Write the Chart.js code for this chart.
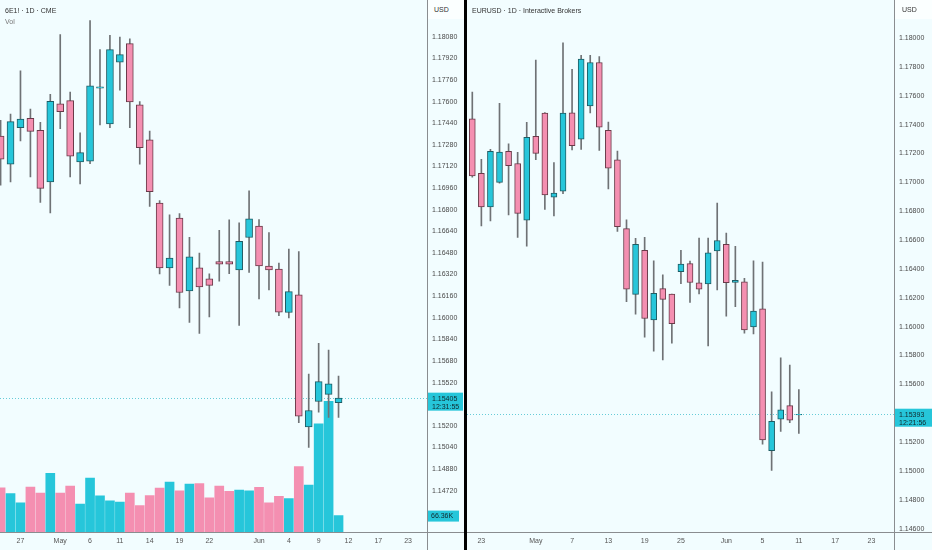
<!DOCTYPE html>
<html><head><meta charset="utf-8">
<script src="https://cdn.jsdelivr.net/npm/chart.js@4.4.1/dist/chart.umd.min.js"></script>
<style>
html,body{margin:0;padding:0;background:#000;width:932px;height:550px;overflow:hidden;font-family:'Liberation Sans',Arial,sans-serif}
.pane{position:absolute;top:0;height:550px;background:#f2fdff}
#lp{left:0;width:464px}
#rp{left:467px;width:465px}
canvas{position:absolute;left:0;top:0}
.t{position:absolute;left:5px;font-size:7px;white-space:nowrap;z-index:2}
.usd{position:absolute;top:0;height:19px;background:#fbffff;font-size:7px;color:#333;line-height:20px;padding-left:6px;z-index:2;box-sizing:border-box}
</style></head>
<body>
<div class="pane" id="lp">
  <canvas id="cl" width="464" height="550"></canvas>
  <div class="t" style="top:7px;color:#333">6E1! · 1D · CME</div>
  <div class="t" style="top:18px;color:#777">Vol</div>
  <div class="usd" style="left:428px;width:36px">USD</div>
</div>
<div class="pane" id="rp">
  <canvas id="cr" width="465" height="550"></canvas>
  <div class="t" style="top:7px;color:#333">EURUSD · 1D · Interactive Brokers</div>
  <div class="usd" style="left:428px;width:37px;padding-left:7px">USD</div>
</div>
<script>
// ---------- Left: 6E1! CME futures ----------
const leftOpen  = [1.17345,1.17137,1.17406,1.17476,1.17387,1.17006,1.17583,1.17607,1.17154,1.17159,1.17700,1.17435,1.17891,1.18029,1.17576,1.17316,1.16849,1.16369,1.16737,1.16199,1.16369,1.16289,1.16415,1.16415,1.16354,1.16594,1.16679,1.16383,1.16361,1.16039,1.16169,1.15193,1.15380,1.15433,1.15372];
const leftHigh  = [1.17462,1.17508,1.17828,1.17544,1.17447,1.17653,1.18095,1.17671,1.17369,1.18199,1.17985,1.18090,1.18078,1.18065,1.17600,1.17382,1.16868,1.16761,1.16771,1.16596,1.16478,1.16325,1.16647,1.16725,1.16702,1.16940,1.16727,1.16631,1.16405,1.16509,1.16489,1.15583,1.15811,1.15760,1.15569];
const leftLow   = [1.16982,1.17006,1.17309,1.17042,1.16853,1.16776,1.17399,1.17042,1.16991,1.17140,1.17428,1.17406,1.17685,1.17406,1.17137,1.16824,1.16325,1.16240,1.16073,1.15966,1.15884,1.16007,1.16271,1.16327,1.15944,1.16335,1.16140,1.16206,1.16015,1.15998,1.15224,1.15040,1.15302,1.15263,1.15263];
const leftClose = [1.17173,1.17452,1.17471,1.17380,1.16958,1.17602,1.17525,1.17195,1.17222,1.17716,1.17709,1.17985,1.17947,1.17598,1.17258,1.16933,1.16369,1.16441,1.16187,1.16451,1.16228,1.16240,1.16397,1.16397,1.16565,1.16732,1.16383,1.16354,1.16041,1.16194,1.15271,1.15314,1.15527,1.15511,1.15405];
const leftVolumeK = [178.7,154.8,117.9,181.4,157.6,237.0,157.6,185.4,112.7,218.4,145.7,125.8,120.7,157.6,107.2,146.9,177.5,201.3,166.7,193.3,196.1,137.8,185.4,164.4,169.5,166.7,180.2,117.9,144.5,135.0,264.8,189.4,436.7,528.0,66.36];
const leftDateTickIndex = [2,6,9,12,15,18,21,26,29,32,35,38,41];
const leftDateTickText  = ['27','May','6','11','14','19','22','Jun','4','9','12','17','23'];
const leftPriceTicks = [1.14720,1.14880,1.15040,1.15200,1.15360,1.15520,1.15680,1.15840,1.16000,1.16160,1.16320,1.16480,1.16640,1.16800,1.16960,1.17120,1.17280,1.17440,1.17600,1.17760,1.17920,1.18080];
const leftCountdown = '12:31:55';

// ---------- Right: EURUSD Interactive Brokers ----------
const rightOpen  = [1.17439,1.17062,1.16829,1.16999,1.17214,1.17130,1.16737,1.17319,1.17480,1.16897,1.16938,1.17482,1.17299,1.17530,1.17830,1.17360,1.17156,1.16679,1.16223,1.16529,1.16046,1.16263,1.16225,1.16381,1.16436,1.16304,1.16295,1.16524,1.16570,1.16306,1.16311,1.15998,1.16123,1.15140,1.15358,1.15453,1.15388];
const rightHigh  = [1.17625,1.17160,1.17228,1.17548,1.17267,1.17207,1.17416,1.17847,1.17484,1.17137,1.17966,1.17782,1.17879,1.17879,1.17871,1.17418,1.17217,1.16740,1.16611,1.16618,1.16456,1.16359,1.16225,1.16529,1.16454,1.16613,1.16613,1.16856,1.16649,1.16556,1.16334,1.16456,1.16447,1.15548,1.15784,1.15734,1.15564];
const rightLow   = [1.17035,1.16697,1.16733,1.16994,1.16774,1.16618,1.16558,1.17156,1.16812,1.16767,1.16921,1.17224,1.17228,1.17480,1.17221,1.16955,1.16660,1.16172,1.16086,1.15927,1.15830,1.15770,1.15886,1.16298,1.16168,1.16227,1.15866,1.16254,1.16073,1.16138,1.15954,1.15950,1.15185,1.15004,1.15273,1.15335,1.15260];
const rightClose = [1.17044,1.16829,1.17214,1.17210,1.17115,1.16785,1.17312,1.17201,1.16912,1.16926,1.17480,1.17253,1.17854,1.17830,1.17382,1.17098,1.16692,1.16259,1.16570,1.16056,1.16231,1.16189,1.16020,1.16434,1.16306,1.16259,1.16511,1.16597,1.16304,1.16320,1.15977,1.16107,1.15215,1.15344,1.15423,1.15351,1.15393];
const rightDateTickIndex = [1,7,11,15,19,23,28,32,36,40,44];
const rightDateTickText  = ['23','May','7','13','19','25','Jun','5','11','17','23'];
const rightPriceTicks = [1.14600,1.14800,1.15000,1.15200,1.15400,1.15600,1.15800,1.16000,1.16200,1.16400,1.16600,1.16800,1.17000,1.17200,1.17400,1.17600,1.17800,1.18000];
const rightCountdown = '12:21:56';

const UP='#26c6da', DOWN='#f48fb1', UPB='#1e5c64', DNB='#6a3a49', WICK='#6f7275';
const FONT = "'Liberation Sans', Arial, sans-serif";
Chart.defaults.font.family = FONT;
Chart.defaults.font.size = 7;
Chart.defaults.color = '#4a4a4a';

function candleSets(O,H,L,C,bodyW){
  const idx = O.map((_,i)=>i);
  const up = idx.map(i=>C[i]>=O[i]);
  return [
    {label:'body', data: idx.map(i=>({x:i,y:[O[i],C[i]]})), backgroundColor: up.map(u=>u?UP:DOWN),
     borderColor: up.map(u=>u?UPB:DNB), borderWidth:1, borderSkipped:false, barThickness:bodyW, grouped:false, yAxisID:'y', clip:0},
    {label:'wick', data: idx.map(i=>({x:i,y:[L[i],H[i]]})), backgroundColor: WICK, borderWidth:0,
     barThickness:1, grouped:false, yAxisID:'y', clip:0}
  ];
}

function overlay(cfg){
  return {
    id:'overlay',
    beforeDatasetsDraw(chart){
      const {ctx, chartArea:a, scales} = chart;
      const py = Math.round(scales.y.getPixelForValue(cfg.last)) + 0.5;
      ctx.save();
      ctx.setLineDash([1,2]); ctx.strokeStyle = '#66ccd8'; ctx.lineWidth = 1;
      ctx.beginPath(); ctx.moveTo(a.left, py); ctx.lineTo(a.right, py); ctx.stroke();
      ctx.restore();
    },
    afterDraw(chart){
      const {ctx, chartArea:a, scales} = chart;
      const W = chart.width, H = chart.height;
      ctx.save();
      ctx.strokeStyle = '#8a8d90'; ctx.lineWidth = 1;
      ctx.beginPath();
      ctx.moveTo(0, Math.round(a.bottom)+0.5); ctx.lineTo(W, Math.round(a.bottom)+0.5);
      ctx.moveTo(Math.round(a.right)+0.5, 0); ctx.lineTo(Math.round(a.right)+0.5, H);
      ctx.stroke();
      const py = scales.y.getPixelForValue(cfg.last);
      ctx.fillStyle = UP;
      ctx.fillRect(a.right+1, py-5.5, cfg.boxW, 18);
      ctx.fillStyle = '#10282c';
      ctx.font = '7px ' + FONT;
      ctx.textBaseline = 'middle'; ctx.textAlign = 'left';
      ctx.fillText(cfg.last.toFixed(5), a.right+5, py+0.5);
      ctx.fillText(cfg.timer, a.right+5, py+9);
      if (cfg.vol !== undefined){
        const vy = scales.v.getPixelForValue(cfg.vol);
        ctx.fillStyle = UP;
        ctx.fillRect(a.right+1, vy-5, 31, 11);
        ctx.fillStyle = '#10282c';
        ctx.fillText(cfg.vol.toFixed(2)+'K', a.right+4, vy+0.5);
      }
      ctx.restore();
    }
  };
}

function makeChart(el, sets, xr, yr, xTickIdx, xTickText, priceTicks, axisW, extraScales, ov){
  return new Chart(document.getElementById(el), {
    type:'bar',
    data:{datasets: sets},
    options:{
      responsive:false, animation:false, events:[],
      layout:{padding:0},
      plugins:{legend:{display:false}, tooltip:{enabled:false}},
      scales:Object.assign({
        x:{type:'linear', offset:false, min:xr[0], max:xr[1],
           grid:{display:false, drawTicks:false}, border:{display:false},
           afterBuildTicks: s => { s.ticks = xTickIdx.map(v=>({value:v})); },
           afterFit: s => { s.height = 18; },
           ticks:{autoSkip:false, maxRotation:0, padding:5, color:'#555',
                  callback:(v,i)=>xTickText[i]}},
        y:{type:'linear', position:'right', min:yr[0], max:yr[1],
           grid:{display:false, drawTicks:false}, border:{display:false},
           afterBuildTicks: s => { s.ticks = priceTicks.map(v=>({value:v})); },
           afterFit: s => { s.width = axisW; },
           ticks:{autoSkip:false, padding:5, color:'#4a4a4a', callback:v=>Number(v).toFixed(5)}}
      }, extraScales)
    },
    plugins:[ov]
  });
}

// left chart
const lIdx = leftOpen.map((_,i)=>i);
const lUp = lIdx.map(i=>leftClose[i]>=leftOpen[i]);
const leftSets = candleSets(leftOpen,leftHigh,leftLow,leftClose,7).concat([
  {label:'Vol', data: lIdx.map(i=>({x:i,y:leftVolumeK[i]})), backgroundColor: lUp.map(u=>u?UP:DOWN),
   borderWidth:0, barThickness:9, grouped:false, yAxisID:'v', clip:0}
]);
makeChart('cl', leftSets, [-0.06, 42.9], [1.144145, 1.182836], leftDateTickIndex, leftDateTickText, leftPriceTicks, 37,
  {v:{type:'linear', display:false, min:0, max:2113}},
  overlay({last: leftClose[leftClose.length-1], timer:leftCountdown, vol:leftVolumeK[leftVolumeK.length-1], boxW:35}));

// right chart
makeChart('cr', candleSets(rightOpen,rightHigh,rightLow,rightClose,6), [-0.584, 46.49], [1.145768, 1.181995],
  rightDateTickIndex, rightDateTickText, rightPriceTicks, 38, {},
  overlay({last: rightClose[rightClose.length-1], timer:rightCountdown, boxW:37}));
</script>
</body></html>
